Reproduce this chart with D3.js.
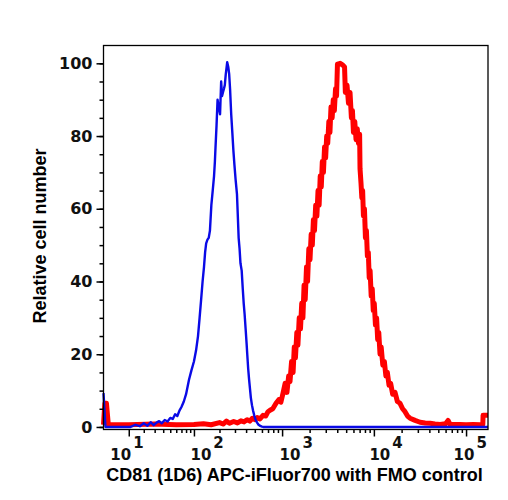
<!DOCTYPE html>
<html>
<head>
<meta charset="utf-8">
<script src="https://cdn.jsdelivr.net/npm/d3@7"></script>
<style>
  body { margin: 0; background: #fff; }
</style>
</head>
<body>
<div id="viz"></div>
<script>
const width = 508;
const height = 500;
const margin = {top: 45.5, right: 20, bottom: 70.5, left: 103.5};
const colorFMO = '#0a0ae6';
const colorStained = '#ff0000';

// histogram of the FMO control: [fluorescence, relative count]
const fmoData = [
  [-0.3, 9.3], [0.3, 0], [11, 0], [14, 0.6], [17, 0.2], [20, 1.0], [23, 0.3], [26, 1.3],
  [29, 0.5], [32, 1.2], [35, 1.6], [38, 1.0], [42, 1.9], [46, 1.5], [50, 2.5], [54, 2.2],
  [58, 3.5], [62, 3.0], [66, 4.5], [70, 5.5], [75, 7], [80, 9], [87, 13], [93, 15.5],
  [100, 18], [106, 21], [112, 25], [117, 30], [122, 35], [127, 40], [132, 44], [136, 48],
  [140, 50.5], [145, 51.5], [150, 52], [155, 54], [161, 61], [167, 65], [173, 69], [177, 73],
  [180, 77], [185, 83], [190, 90], [196, 88], [203, 86], [209, 95], [214, 91], [219, 92],
  [225, 93], [230, 94], [236, 97], [240, 98.5], [245, 100.3], [252, 99], [258, 97], [264, 93],
  [272, 86], [280, 81], [288, 76], [296, 72], [305, 68], [316, 64], [323, 58], [330, 52],
  [338, 49], [346, 45], [357, 43], [367, 38], [376, 34], [385, 31], [395, 27], [405, 23],
  [412, 20], [422, 16], [432, 13], [442, 10.5], [452, 8], [465, 6], [478, 4.5], [495, 3],
  [510, 2], [530, 1.2], [550, 0.6], [575, 0.3], [600, 0.1], [620, 0], [173000, 0]
];

// histogram of the CD81 stained sample
const cd81Data = [
  [-0.3, 0.6], [0.1, 6.5], [0.6, 6.5], [1.2, 0.7], [10, 0.6], [30, 0.8], [60, 0.6], [100, 0.7],
  [130, 0.9], [160, 0.6], [200, 1.2], [220, 0.8], [240, 1.6], [260, 1.0], [290, 1.5], [320, 1.1],
  [350, 1.7], [380, 1.4], [410, 2.0], [440, 1.6], [470, 2.4], [500, 2.0], [530, 2.6], [570, 2.2],
  [617, 3.2], [660, 3.0], [700, 4.2], [737, 4.6], [790, 5.0], [858, 6.5], [920, 7.5], [970, 6.8],
  [1024, 9.3], [1080, 12], [1130, 9.5], [1180, 14], [1221, 12.5], [1270, 18], [1320, 15], [1360, 22],
  [1400, 19], [1450, 26], [1490, 22.5], [1540, 30], [1590, 27], [1640, 34], [1690, 30], [1740, 39],
  [1790, 35], [1850, 44], [1900, 40], [1960, 49], [2020, 46], [2080, 53], [2140, 50], [2200, 57],
  [2260, 54], [2330, 61], [2400, 58], [2470, 65], [2540, 61], [2610, 69], [2680, 66], [2750, 73],
  [2830, 70], [2910, 77], [2990, 74], [3070, 80], [3150, 78], [3240, 84], [3330, 81], [3420, 88],
  [3520, 85], [3620, 90], [3720, 87], [3830, 93], [3930, 91], [4020, 99.8], [4300, 100], [4600, 99.5],
  [4800, 99], [4900, 92], [5108, 94], [5300, 89], [5506, 92], [5700, 85], [5850, 87], [6000, 81],
  [6200, 84], [6400, 79], [6600, 82], [6800, 78], [7000, 80.5], [7073, 71], [7250, 67], [7400, 63],
  [7550, 65], [7700, 58], [7900, 60], [8100, 52], [8300, 54], [8500, 47], [8700, 48], [8900, 41],
  [9100, 43], [9350, 36], [9600, 38], [9850, 32], [10100, 34], [10400, 28], [10700, 30], [11000, 24],
  [11300, 26], [11660, 20], [12000, 22], [12500, 17], [13000, 18], [13500, 14], [14000, 15], [14600, 11.5],
  [15200, 12], [16000, 9], [16960, 9.5], [18000, 7], [19220, 6.5], [20500, 5], [21780, 4.2], [23200, 3],
  [24680, 2.4], [28000, 1.8], [31700, 1.3], [36000, 1.1], [40700, 1.0], [46000, 0.8], [52250, 0.7],
  [60000, 0.9], [63800, 1.8], [67000, 0.7], [86150, 0.7], [100000, 0.6], [120000, 0.7], [141900, 0.6],
  [152000, 0.7], [153000, 3.2], [173000, 3.2]
];

const xMajor = [10, 100, 1000, 10000, 100000];
const xMinor = [2, 3, 4, 5, 6, 7, 8, 9];
const yMajor = [0, 20, 40, 60, 80, 100];
const yMinor = d3.range(0, 105, 5);
// horizontal nudge of each "10^n" label against its tick, as in the original export
const xLabelShift = [-19, -4, -3, -5, -13];

const xScale = d3.scaleSymlog()
  .constant(12)
  .domain([-0.3, 173000])
  .range([margin.left, width - margin.right]);

const yScale = d3.scaleLinear()
  .domain([-0.7, 104.9])
  .range([height - margin.bottom, margin.top]);

const svg = d3.select('#viz')
  .append('svg')
    .attr('width', width)
    .attr('height', height);

// histograms
const line = d3.line()
  .x(d => xScale(d[0]))
  .y(d => yScale(d[1]));

svg.append('path')
  .datum(cd81Data)
  .attr('d', line)
  .attr('fill', 'none')
  .attr('stroke', colorStained)
  .attr('stroke-width', 5)
  .attr('stroke-linejoin', 'round');

svg.append('path')
  .datum(fmoData)
  .attr('d', line)
  .attr('fill', 'none')
  .attr('stroke', colorFMO)
  .attr('stroke-width', 2.4)
  .attr('stroke-linejoin', 'round');

// frame
svg.append('rect')
  .attr('x', margin.left)
  .attr('y', margin.top)
  .attr('width', width - margin.left - margin.right)
  .attr('height', height - margin.top - margin.bottom)
  .attr('fill', 'none')
  .attr('stroke', '#000')
  .attr('stroke-width', 1.3);

// y axis
const yAxisMinor = svg.append('g')
  .attr('transform', `translate(${margin.left},0)`)
  .call(d3.axisLeft(yScale).tickValues(yMinor).tickSize(4).tickFormat(''));
const yAxis = svg.append('g')
  .attr('transform', `translate(${margin.left},0)`)
  .call(d3.axisLeft(yScale).tickValues(yMajor).tickSize(7).tickPadding(4).tickFormat(d3.format('d')));

[yAxisMinor, yAxis].forEach(g => {
  g.select('.domain').remove();
  g.selectAll('line').attr('stroke-width', 1.5);
});
yAxis.selectAll('text')
  .attr('font-family', 'DejaVu Sans')
  .attr('font-weight', 'bold')
  .attr('font-size', 16)
  .attr('fill', '#111');

// x axis
const xMinorValues = [];
xMajor.slice(0, -1).forEach(m => xMinor.forEach(k => xMinorValues.push(k * m)));

const xAxisMinor = svg.append('g')
  .attr('transform', `translate(0,${height - margin.bottom})`)
  .call(d3.axisBottom(xScale).tickValues(xMinorValues).tickSize(3.5).tickFormat(''));
const xAxis = svg.append('g')
  .attr('transform', `translate(0,${height - margin.bottom})`)
  .call(d3.axisBottom(xScale).tickValues(xMajor).tickSize(7).tickFormat(''));

[xAxisMinor, xAxis].forEach(g => {
  g.select('.domain').remove();
  g.selectAll('line').attr('stroke-width', 1.5);
});

const xLabels = xAxis.selectAll('.tick')
  .append('text')
    .attr('x', (d, i) => xLabelShift[i])
    .attr('y', 30)
    .attr('text-anchor', 'start')
    .attr('fill', '#111')
    .attr('font-family', 'DejaVu Sans')
    .attr('font-weight', 'bold')
    .attr('font-size', 15)
    .text('10');
xLabels.append('tspan')
  .attr('dy', -12)
  .attr('dx', 2)
  .text(d => Math.round(Math.log10(d)));

// axis titles
svg.append('text')
  .attr('x', 294.5)
  .attr('y', 481)
  .attr('text-anchor', 'middle')
  .attr('font-family', 'Liberation Sans')
  .attr('font-weight', 'bold')
  .attr('font-size', 18)
  .attr('fill', '#000')
  .text('CD81 (1D6) APC-iFluor700 with FMO control');

svg.append('text')
  .attr('transform', 'translate(46,236) rotate(-90)')
  .attr('text-anchor', 'middle')
  .attr('font-family', 'Liberation Sans')
  .attr('font-weight', 'bold')
  .attr('font-size', 18)
  .attr('fill', '#000')
  .text('Relative cell number');
</script>
</body>
</html>
